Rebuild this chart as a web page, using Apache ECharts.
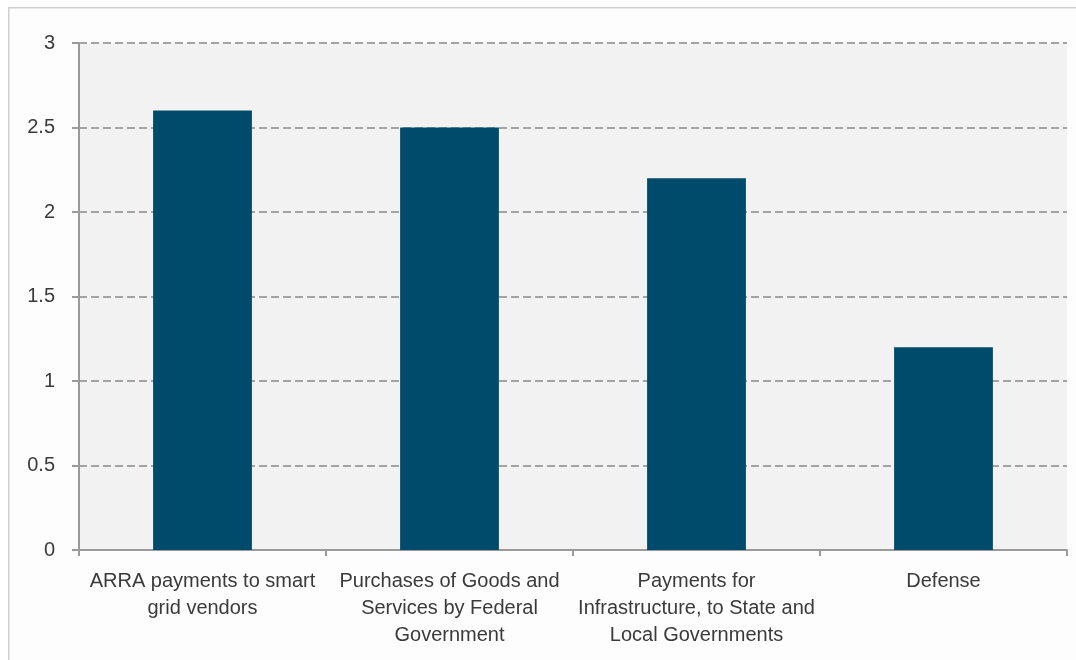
<!DOCTYPE html>
<html>
<head>
<meta charset="utf-8">
<script src="https://cdn.jsdelivr.net/npm/echarts@6/dist/echarts.min.js"></script>
<style>
  html, body { margin: 0; padding: 0; background: #ffffff; }
  #chart { width: 1076px; height: 660px; }
</style>
</head>
<body>
<div id="chart"></div>
<script>
// Spending categories and their values
const categories = [
  'ARRA payments to smart\ngrid vendors',
  'Purchases of Goods and\nServices by Federal\nGovernment',
  'Payments for\nInfrastructure, to State and\nLocal Governments',
  'Defense'
];
const values = [2.6, 2.5, 2.2, 1.2];
const yTicks = { min: 0, max: 3, interval: 0.5 };

const fontFamily = '"Liberation Sans", Arial, sans-serif';
const axisGray = '#9a9a9a';
const textColor = '#3a3a3a';

const chart = echarts.init(document.getElementById('chart'), null, { renderer: 'canvas' });
chart.setOption({
  backgroundColor: '#ffffff',
  animation: false,
  graphic: [{
    type: 'rect',
    left: 8, top: 7,
    shape: { width: 1080, height: 670 },
    style: { fill: '#fdfdfd', stroke: '#cfcfcf', lineWidth: 1.5 },
    z: -10
  }],
  grid: {
    left: 79, right: 9, top: 43, bottom: 110,
    show: true, backgroundColor: '#f2f2f2', borderWidth: 0
  },
  xAxis: {
    type: 'category',
    data: categories,
    axisLine: { show: true, lineStyle: { color: axisGray, width: 2 } },
    axisTick: { show: true, length: 6, lineStyle: { color: axisGray, width: 2 } },
    axisLabel: {
      color: textColor, fontFamily, fontSize: 20, lineHeight: 27,
      margin: 18, interval: 0, align: 'center'
    }
  },
  yAxis: {
    type: 'value',
    min: yTicks.min, max: yTicks.max, interval: yTicks.interval,
    axisLine: { show: true, lineStyle: { color: axisGray, width: 2 } },
    axisTick: { show: true, length: 7, lineStyle: { color: axisGray, width: 2 } },
    axisLabel: { color: textColor, fontFamily, fontSize: 20, margin: 24 },
    splitLine: { show: true, lineStyle: { color: '#a3a3a3', width: 2, type: [8, 4] } }
  },
  series: [{
    type: 'bar',
    data: values,
    barWidth: '40%',
    itemStyle: { color: '#004a6b' }
  }]
});
</script>
</body>
</html>
